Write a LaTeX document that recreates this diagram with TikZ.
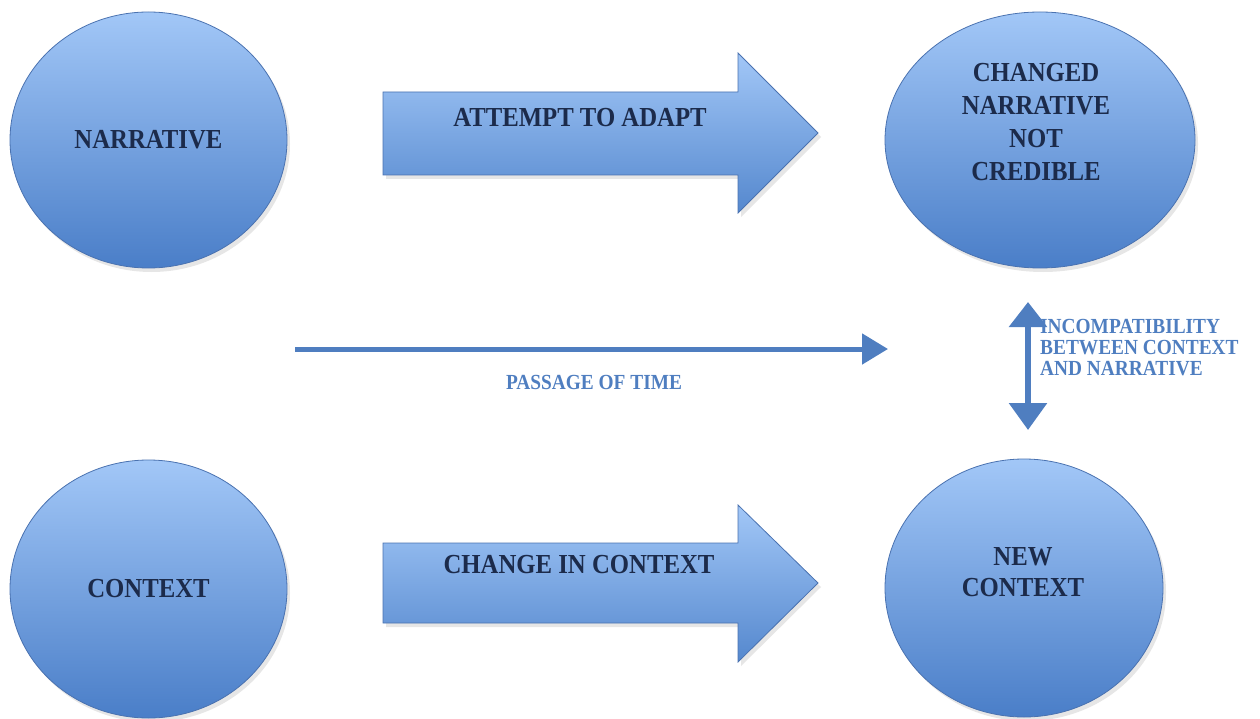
\documentclass[tikz,border=0pt]{standalone}
\usepackage{fontspec}
\setmainfont{Liberation Serif}
\newfontfamily\capfont[FakeStretch=0.9]{Liberation Serif}
\usetikzlibrary{arrows.meta,shadows,shapes.geometric}
\definecolor{ctop}{HTML}{A2C7F7}
\definecolor{cbot}{HTML}{4A7EC8}
\definecolor{cline}{HTML}{4A72B0}
\definecolor{navy}{HTML}{1C2B4B}
\definecolor{lblue}{HTML}{4F7EC0}
\definecolor{atop}{HTML}{A2C7F7}
\definecolor{abot}{HTML}{5588CE}
\begin{document}
\begin{tikzpicture}[x=1pt,y=-1pt,
  bubble/.style={ellipse, draw=cline, line width=0.8pt, top color=ctop, bottom color=cbot,
    inner sep=0pt, drop shadow={opacity=0.2, shadow xshift=3pt, shadow yshift=-4pt}},
  bubtext/.style={font=\capfont\bfseries\fontsize{27.5}{33}\selectfont, text=navy, align=center, inner sep=0pt},
  blockarrow/.style={draw=cline, line width=0.8pt, top color=atop, bottom color=abot,
    drop shadow={opacity=0.2, shadow xshift=3pt, shadow yshift=-4pt}},
  lbltext/.style={font=\capfont\bfseries\fontsize{21.5}{21}\selectfont, text=lblue, inner sep=0pt},
  timeline/.style={draw=lblue, line width=5pt},
]
\useasboundingbox (0,0) rectangle (1260,719);

% circles
\node[bubble, minimum width=277pt, minimum height=256pt] (nar) at (148.5,140) {};
\node[bubble, minimum width=310pt, minimum height=256pt] (chg) at (1040,140) {};
\node[bubble, minimum width=277pt, minimum height=258pt] (ctx) at (148.5,589) {};
\node[bubble, minimum width=278pt, minimum height=258pt] (nctx) at (1024,588) {};

\node[bubtext] (narT) at (148.5,140) {NARRATIVE};
\node[bubtext] (chgT) at (1036,122) {CHANGED\\NARRATIVE\\NOT\\CREDIBLE};
\node[bubtext] (ctxT) at (148.5,589) {CONTEXT};
\node[bubtext, font=\capfont\bfseries\fontsize{27.5}{31}\selectfont] (nctxT) at (1023,572) {NEW\\CONTEXT};

% block arrows
\shade[blockarrow] (383,92) -- (738,92) -- (738,53) -- (818,133) -- (738,213) -- (738,175) -- (383,175) -- cycle;
\node[bubtext] (adaptT) at (580,118) {ATTEMPT TO ADAPT};

\shade[blockarrow] (383,543) -- (738,543) -- (738,505) -- (818,583) -- (738,662) -- (738,623) -- (383,623) -- cycle;
\node[bubtext] (changeT) at (579,565) {CHANGE IN CONTEXT};

% passage of time
\coordinate (t0) at (295,349);
\coordinate (t1) at (888,349);
\draw[timeline, -{Triangle[length=26pt,width=30pt]}] (t0) -- (t1);
\node[lbltext] (timeT) at (594,382) {PASSAGE OF TIME};

% incompatibility
\coordinate (i0) at (1028,430);
\coordinate (i1) at (1028,302);
\draw[timeline, line width=6pt, {Triangle[length=27pt,width=37pt]}-{Triangle[length=25pt,width=37pt]}] (i0) -- (i1);
\node[lbltext, anchor=west, align=left] (incT) at (1040,348) {INCOMPATIBILITY\\BETWEEN CONTEXT\\AND NARRATIVE};
\end{tikzpicture}
\end{document}
